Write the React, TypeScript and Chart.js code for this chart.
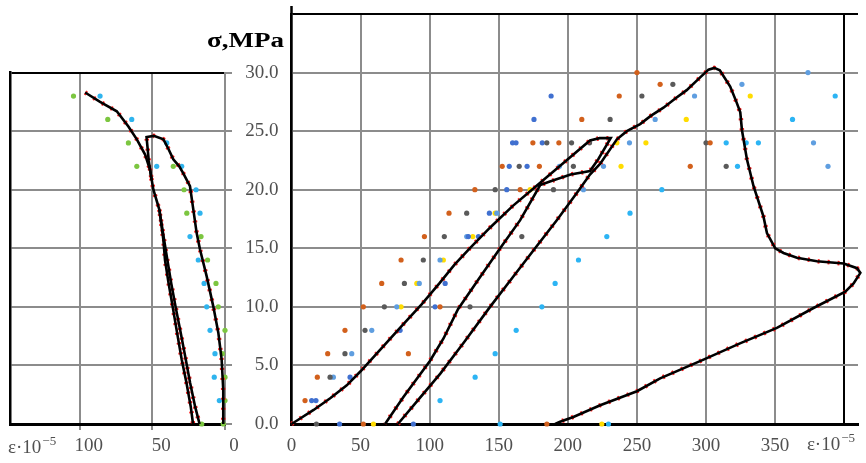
import { useEffect, useRef } from 'react';
import { Chart, registerables } from 'chart.js';

Chart.register(...registerables);

const SERIF = "'Liberation Serif', 'DejaVu Serif', serif";
const GRID = '#8c8c8c';
const LABEL = '#505050';

// ---------- Lateral strain panel (left) ----------
const lateralOuterStrain = [96.3, 86, 74.5, 66.5, 60.7, 55, 51.6, 49.3, 45.2, 42.4, 41.3, 38.8, 36, 33, 29.8, 26.5, 23.6, 22];
const lateralOuterStress = [28.3, 27.5, 26.7, 25.4, 24.3, 23, 21.7, 20.0, 18.3, 15.7, 14.0, 12.0, 10.0, 7.8, 5.5, 3.5, 1.5, 0];
const lateralReturnStrain = [45.2, 41, 37, 34, 30.5, 27, 24, 20.6, 17.5];
const lateralReturnStress = [18.3, 15, 12, 10, 7.8, 5.5, 3.5, 1.5, 0];
const lateralInnerStrain = [50.5, 52.5, 54, 49, 42.4, 39, 35.6, 31.5, 28.7, 24.1, 21.8, 19.5, 17.2, 12.6, 8.0, 4.6, 2.3, 1.2, 1.2];
const lateralInnerStress = [20.8, 22.5, 24.5, 24.6, 24.3, 23.5, 22.6, 22.0, 21.4, 20.3, 18.3, 16.3, 14.9, 12.6, 10.0, 7.8, 5.5, 2.9, 0];

const gaugeGreenStrain = [104.3, 80.7, 66.5, 60.7, 35.6, 28.2, 26.3, 16.5, 12, 6.2, 4.6, 0, 1.8, 0, 0, 16, 1.2];
const gaugeGreenStress = [28, 26, 24, 22, 22, 20, 18, 16, 14, 12, 10, 8, 6, 4, 2, 0, 0];
const gaugeSkyStrain = [86, 64.2, 40.1, 47, 29.8, 19.9, 17.2, 24.1, 18.4, 14.4, 12.6, 10.3, 6.9, 7.4, 3.9];
const gaugeSkyStress = [28, 26, 24, 22, 22, 20, 18, 16, 14, 12, 10, 8, 6, 4, 2];

// ---------- Axial strain panel (right) ----------
const firstCycleStrain = [0, 4, 16, 28, 40, 50, 60, 70, 80, 94, 107, 118, 129, 144, 160, 177, 197, 216, 223, 231, 222, 216, 202, 187, 180, 165.5, 151, 135, 120.5, 110, 100.3, 81, 67.7];
const firstCycleStress = [0, 0.3, 1.2, 2.2, 3.3, 4.5, 5.8, 7.1, 8.4, 10.2, 12.0, 13.6, 15.0, 16.8, 18.6, 20.3, 22.3, 24.2, 24.4, 24.4, 22.6, 21.6, 21.3, 20.7, 20.4, 17.4, 15.0, 12.3, 9.8, 7.3, 5.4, 2.3, 0];
const reloadStrain = [77, 92, 107.7, 125, 143.7, 160, 176.3, 192, 207, 216, 223.3, 235.5, 242.7, 252.3, 260, 269.2, 278, 286, 295, 301.8, 306, 310, 317.5, 322, 324.8, 326, 329.6, 334.4, 341.6, 344.1, 350.1, 356.1, 365.8, 380.3, 399.6, 409.3, 411.7, 406.8, 400.8, 377.8, 351.3, 325, 298.2, 266.8, 250, 223.4, 204, 194.4, 190.8];
const reloadStress = [0, 2.1, 4.3, 7.0, 10, 12.5, 15, 17.4, 19.8, 21.3, 22.2, 24.3, 25.0, 25.6, 26.3, 27.0, 27.8, 28.5, 29.5, 30.25, 30.4, 30.2, 28.8, 27.5, 26.6, 25.1, 22.6, 20.3, 17.7, 16.3, 15.0, 14.6, 14.2, 13.9, 13.7, 13.3, 12.9, 12.0, 11.3, 9.9, 8.2, 6.9, 5.5, 3.9, 2.8, 1.6, 0.6, 0.2, 0];

const orangeStrain = [52, 184.8, 9.8, 18.7, 26.2, 84.6, 38.7, 52, 107.5, 65.3, 79.3, 96.2, 114, 132.7, 165.5, 152.5, 179.4, 288.6, 174.7, 193.5, 303, 210.1, 237.2, 266.8, 250];
const orangeStress = [0, 0, 2, 4, 6, 6, 8, 10, 10, 12, 14, 16, 18, 20, 20, 22, 22, 22, 24, 24, 24, 26, 28, 29, 30];
const greyStrain = [18, 27.9, 38.7, 53.2, 67.2, 129.2, 81.7, 95.4, 110.6, 166.7, 126.8, 147.4, 189.6, 164.8, 204, 314.6, 184.8, 202.7, 215.7, 300, 230.6, 253.6, 276];
const greyStress = [0, 4, 6, 8, 10, 10, 12, 14, 16, 16, 18, 20, 20, 22, 22, 22, 24, 24, 24, 24, 26, 28, 29];
const blueStrain = [34.8, 88.2, 14.6, 17.7, 42.4, 78.6, 103.9, 111.2, 128, 135.3, 143.2, 155.8, 157.6, 170.5, 160, 162.5, 181.5, 175.5, 187.9];
const blueStress = [0, 0, 2, 2, 4, 8, 10, 12, 16, 16, 18, 20, 22, 22, 24, 24, 24, 26, 28];
const lightBlueStrain = [30.3, 43.6, 58.1, 76.2, 92.5, 107.5, 126.8, 148.6, 211.3, 193.9, 225.8, 388.3, 244.6, 377.8, 263.2, 291.7, 326, 373.8];
const lightBlueStress = [4, 6, 8, 10, 12, 14, 16, 18, 20, 22, 22, 22, 24, 24, 26, 28, 29, 30];
const cyanStrain = [151, 229.4, 107.5, 132.9, 147.4, 162.6, 181.2, 190.8, 207.7, 228.2, 245, 268, 322.8, 314.6, 329.1, 337.9, 362.6, 393.5];
const cyanStress = [0, 0, 2, 4, 6, 8, 10, 12, 14, 16, 18, 20, 22, 24, 24, 24, 26, 28];
const yellowStrain = [59.3, 224.6, 79.3, 90.7, 109.9, 131.2, 147.4, 172.7, 238.5, 235.5, 256.5, 285.7, 332];
const yellowStress = [0, 0, 10, 12, 14, 16, 18, 20, 22, 24, 24, 26, 28];

// Axis ticks
const lateralTicks = [0, 50, 100];
const axialTicks = [0, 50, 100, 150, 200, 250, 300, 350];
const stressTicks = [0, 5, 10, 15, 20, 25, 30];

type Pt = { x: number; y: number };
const zipPoints = (xs: number[], ys: number[]): Pt[] => xs.map((x, i) => ({ x, y: ys[i] }));

function curveDatasets(xs: number[], ys: number[]) {
  const data = zipPoints(xs, ys);
  return [
    { data, showLine: true, borderColor: '#000000', borderWidth: 2.6, pointRadius: 0, order: 0, clip: false as any, yAxisID: 'y' },
    { data, showLine: true, borderColor: '#ff2020', borderWidth: 4.5, borderDash: [2, 8], pointRadius: 0, order: 1, clip: false as any, yAxisID: 'y' },
  ];
}

function markerDataset(xs: number[], ys: number[], color: string) {
  return {
    data: zipPoints(xs, ys),
    showLine: false,
    pointRadius: 2.6,
    pointBackgroundColor: color,
    pointBorderColor: color,
    pointBorderWidth: 0,
    order: 2,
    clip: false as any,
    yAxisID: 'y',
  };
}

function drawStrainLabel(ctx: CanvasRenderingContext2D, x: number, baseline: number) {
  ctx.save();
  ctx.fillStyle = LABEL;
  ctx.textAlign = 'left';
  ctx.textBaseline = 'alphabetic';
  ctx.font = `19px ${SERIF}`;
  const main = 'ε·10';
  ctx.fillText(main, x, baseline);
  const w = ctx.measureText(main).width;
  ctx.font = `13px ${SERIF}`;
  ctx.fillText('−5', x + w + 1, baseline - 8);
  ctx.restore();
}

const tickFont = { family: SERIF, size: 19 };

export default function App() {
  const leftRef = useRef<HTMLCanvasElement | null>(null);
  const rightRef = useRef<HTMLCanvasElement | null>(null);

  useEffect(() => {
    if (!leftRef.current || !rightRef.current) return;

    const leftLabels = {
      id: 'lateralLabels',
      afterDraw(chart: any) {
        const { ctx, chartArea } = chart;
        drawStrainLabel(ctx, chartArea.left - 2, chartArea.bottom + 29);
      },
    };

    const left = new Chart(leftRef.current, {
      type: 'scatter',
      data: {
        datasets: [
          ...curveDatasets(lateralOuterStrain, lateralOuterStress),
          ...curveDatasets(lateralReturnStrain, lateralReturnStress),
          ...curveDatasets(lateralInnerStrain, lateralInnerStress),
          markerDataset(gaugeGreenStrain, gaugeGreenStress, '#7cc640'),
          markerDataset(gaugeSkyStrain, gaugeSkyStress, '#2fb4ee'),
        ] as any,
      },
      options: {
        responsive: false,
        animation: false,
        events: [],
        layout: { padding: { top: 72.6, left: 0, right: 0, bottom: 0 } },
        plugins: { legend: { display: false }, tooltip: { enabled: false } },
        scales: {
          x: {
            type: 'linear',
            reverse: true,
            min: 0,
            max: 148,
            afterFit: (s: any) => { s.height = 39; },
            afterBuildTicks: (s: any) => { s.ticks = lateralTicks.map((v) => ({ value: v })); },
            ticks: { color: LABEL, font: tickFont, padding: 5, labelOffset: 9, maxRotation: 0, autoSkip: false, callback: (v: any) => String(v) },
            grid: { color: GRID, lineWidth: 2, drawTicks: true, tickLength: 6 },
            border: { color: '#000000', width: 3 },
          },
          y: {
            type: 'linear',
            min: 0,
            max: 30,
            afterFit: (s: any) => { s.width = 10; s.paddingTop = 0; s.paddingBottom = 0; },
            afterBuildTicks: (s: any) => { s.ticks = stressTicks.map((v) => ({ value: v })); },
            ticks: { display: false },
            grid: { color: (c: any) => (c.tick && c.tick.value === 30 ? '#000000' : GRID), lineWidth: 2, drawTicks: false },
            border: { color: '#000000', width: 2.5 },
          },
          yr: {
            type: 'linear',
            position: 'right',
            min: 0,
            max: 30,
            afterFit: (s: any) => { s.width = 15; s.paddingTop = 0; s.paddingBottom = 0; },
            afterBuildTicks: (s: any) => { s.ticks = stressTicks.map((v) => ({ value: v })); },
            ticks: { display: false },
            grid: { drawOnChartArea: false, drawTicks: true, tickLength: 7, color: GRID, lineWidth: 2 },
            border: { color: GRID, width: 2 },
          },
        },
      } as any,
      plugins: [leftLabels],
    });

    const rightLabels = {
      id: 'axialLabels',
      afterDraw(chart: any) {
        const { ctx, chartArea, scales } = chart;
        // axis line continues a little above the frame
        ctx.save();
        ctx.strokeStyle = '#000000';
        ctx.lineWidth = 2.5;
        ctx.beginPath();
        ctx.moveTo(chartArea.left, chartArea.top - 8);
        ctx.lineTo(chartArea.left, chartArea.top);
        ctx.stroke();
        ctx.restore();

        // stress axis title
        ctx.save();
        ctx.fillStyle = '#000000';
        ctx.font = `bold 20px ${SERIF}`;
        ctx.textBaseline = 'alphabetic';
        ctx.textAlign = 'left';
        const title = 'σ,MPa';
        const w = ctx.measureText(title).width;
        const target = 77;
        const rightEdge = chartArea.left - 7.5;
        ctx.translate(rightEdge - target, chartArea.top + 33);
        ctx.scale(target / w, 1);
        ctx.fillText(title, 0, 0);
        ctx.restore();

        drawStrainLabel(ctx, scales.x.getPixelForValue(373), chartArea.bottom + 26);
      },
    };

    const right = new Chart(rightRef.current, {
      type: 'scatter',
      data: {
        datasets: [
          ...curveDatasets(firstCycleStrain, firstCycleStress),
          ...curveDatasets(reloadStrain, reloadStress),
          markerDataset(orangeStrain, orangeStress, '#d2601c'),
          markerDataset(greyStrain, greyStress, '#5a5a5a'),
          markerDataset(blueStrain, blueStress, '#4070d0'),
          markerDataset(lightBlueStrain, lightBlueStress, '#5f9ee0'),
          markerDataset(cyanStrain, cyanStress, '#2cb4f4'),
          markerDataset(yellowStrain, yellowStress, '#ffdc00'),
        ] as any,
      },
      options: {
        responsive: false,
        animation: false,
        events: [],
        layout: { padding: { top: 14, left: 0, right: 8, bottom: 0 } },
        plugins: { legend: { display: false }, tooltip: { enabled: false } },
        scales: {
          x: {
            type: 'linear',
            min: 0,
            max: 410,
            afterFit: (s: any) => { s.height = 39; },
            afterBuildTicks: (s: any) => { s.ticks = [...axialTicks, 400].map((v) => ({ value: v })); },
            ticks: {
              color: LABEL,
              font: tickFont,
              padding: 11,
              maxRotation: 0,
              autoSkip: false,
              callback: (v: any) => (v === 400 ? '' : String(v)),
            },
            grid: { color: (c: any) => (c.tick && c.tick.value === 400 ? '#000000' : GRID), lineWidth: 2, drawTicks: false },
            border: { color: '#000000', width: 3 },
          },
          y: {
            type: 'linear',
            min: 0,
            max: 35,
            afterFit: (s: any) => { s.width = 111.5; s.paddingTop = 0; s.paddingBottom = 0; },
            afterBuildTicks: (s: any) => { s.ticks = [...stressTicks, 35].map((v) => ({ value: v })); },
            ticks: {
              color: LABEL,
              font: tickFont,
              padding: 13,
              callback: (v: any) => (v === 35 ? '' : Number(v).toFixed(1)),
            },
            grid: { color: (c: any) => (c.tick && c.tick.value === 35 ? '#000000' : GRID), lineWidth: 2, drawTicks: false },
            border: { color: '#000000', width: 2.5 },
          },
        },
      } as any,
      plugins: [rightLabels],
    });

    return () => {
      left.destroy();
      right.destroy();
    };
  }, []);

  return (
    <div style={{ position: 'fixed', left: 0, top: 0, width: 866, height: 463, background: '#ffffff' }}>
      <canvas ref={leftRef} width={240} height={463} style={{ position: 'absolute', left: 0, top: 0 }} />
      <canvas ref={rightRef} width={686} height={463} style={{ position: 'absolute', left: 180, top: 0 }} />
    </div>
  );
}
